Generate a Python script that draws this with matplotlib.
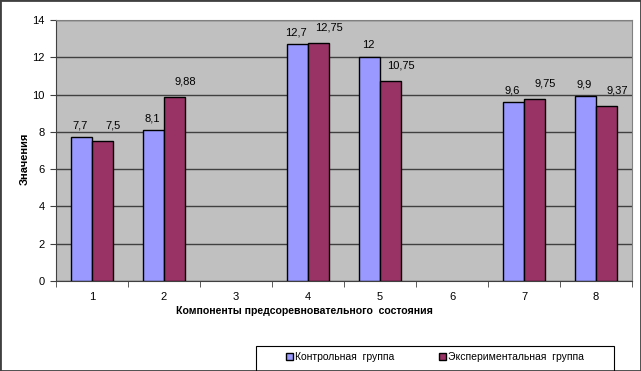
import numpy as np
import matplotlib.pyplot as plt
from matplotlib.patches import Rectangle

plt.rcParams['font.family'] = ['Liberation Sans', 'DejaVu Sans']
plt.rcParams['font.size'] = 8

categories = ['1', '2', '3', '4', '5', '6', '7', '8']
control = [7.7, 8.1, np.nan, 12.7, 12, np.nan, 9.6, 9.9]
experimental = [7.5, 9.88, np.nan, 12.75, 10.75, np.nan, 9.75, 9.37]
control_labels = ['7,7', '8,1', '', '12,7', '12', '', '9,6', '9,9']
experimental_labels = ['7,5', '9,88', '', '12,75', '10,75', '', '9,75', '9,37']
series_names = ['Контрольная  группа', 'Экспериментальная  группа']

BLUE = '#9999FF'
MAROON = '#993366'

fig = plt.figure(figsize=(6.41, 3.71), dpi=100)
ax = fig.add_axes([56 / 641, 1 - 281 / 371, 576 / 641, 261 / 371])
ax.set_facecolor('#C0C0C0')

x = np.arange(len(categories))
w = 0.285
b1 = ax.bar(x - w / 2, control, w, color=BLUE, edgecolor='black', lw=1, zorder=3, label=series_names[0])
b2 = ax.bar(x + w / 2, experimental, w, color=MAROON, edgecolor='black', lw=1, zorder=3, label=series_names[1])

# value labels: blue ones sit centred, maroon ones a bit to the right (like Excel did it)
for bars, labs, off in [(b1, control_labels, (-1, 5)), (b2, experimental_labels, (8, 7.5))]:
    for r, lab in zip(bars, labs):
        if not lab:
            continue
        ax.annotate(lab, (r.get_x() + r.get_width() / 2, r.get_height()),
                    xytext=off, textcoords='offset points', ha='center', va='bottom', fontsize=8)

ax.set_xlim(-0.5, len(categories) - 0.5)
ax.set_ylim(0, 14)
ax.set_yticks(range(0, 15, 2))
ax.yaxis.grid(True, color='#404040', lw=1, zorder=1)
ax.set_xticks(x)
ax.set_xticklabels(categories)
ax.set_xticks(np.arange(-0.5, len(categories)), minor=True)
ax.tick_params(axis='x', which='major', length=0, pad=8)
ax.tick_params(axis='x', which='minor', length=4, color='#404040', direction='out')
ax.tick_params(axis='y', length=4, color='#404040', direction='out', pad=4)
for s in ['top', 'right']:
    ax.spines[s].set_color('#808080')
for s in ['left', 'bottom']:
    ax.spines[s].set_color('#404040')

ax.set_xlabel('Компоненты предсоревновательного  состояния', fontweight='bold', fontsize=7.6)
ax.xaxis.set_label_coords(0.431, -0.095)
ax.set_ylabel('Значения', fontweight='bold', fontsize=8)
ax.yaxis.set_label_coords(-0.045, 0.47)

# outer frame
fig.patches.append(Rectangle((0, 0), 1, 1, transform=fig.transFigure, fill=False,
                             edgecolor='#404040', lw=2))

# legend box (frame drawn separately so the entries stay centred)
fig.patches.append(Rectangle((256 / 641, -0.01), 358 / 641, 29 / 371, transform=fig.transFigure,
                             fill=False, edgecolor='black', lw=0.8))
leg = fig.legend(handles=[b1, b2], loc='center', bbox_to_anchor=(435 / 641, 14 / 371),
                 ncol=2, frameon=False, handlelength=0.7, handleheight=0.7,
                 handletextpad=0.2, columnspacing=4.3, fontsize=7.5, borderaxespad=0)

fig.savefig('out.png', dpi=100)
